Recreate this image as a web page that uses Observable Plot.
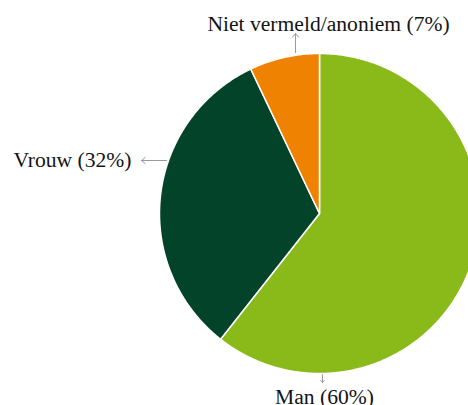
<!DOCTYPE html>
<html>
<head>
<meta charset="utf-8">
<script src="https://cdn.jsdelivr.net/npm/d3@7"></script>
<script src="https://cdn.jsdelivr.net/npm/@observablehq/plot@0.6"></script>
<style>
  html, body { margin: 0; padding: 0; background: #fff; overflow: hidden; }
  svg text { font-family: "Liberation Serif", "DejaVu Serif", serif !important; }
</style>
</head>
<body>
<div id="chart"></div>
<script>
// Data
const categories = ["Man", "Vrouw", "Niet vermeld/anoniem"];
const values = [60, 32, 7];
const labels = ["Man (60%)", "Vrouw (32%)", "Niet vermeld/anoniem (7%)"];
const colors = ["#8aba1a", "#03432a", "#ef8200"];

// Layout (pixels)
const W = 468, H = 405;
const cx = 319, cy = 213, R = 160;
const ux = px => (px - cx) / R;
const uy = py => (cy - py) / R;

// Slices from d3.pie (clockwise from 12 o'clock)
const arcs = d3.pie().sort(null).value(d => d.value)(
  categories.map((c, i) => ({category: c, value: values[i]}))
);
const poly = [];
arcs.forEach(a => {
  const n = Math.max(2, Math.ceil((a.endAngle - a.startAngle) / (Math.PI / 360)));
  poly.push({category: a.data.category, x: 0, y: 0});
  for (let k = 0; k <= n; k++) {
    const t = a.startAngle + (a.endAngle - a.startAngle) * k / n;
    poly.push({category: a.data.category, x: Math.sin(t), y: Math.cos(t)});
  }
  poly.push({category: a.data.category, x: 0, y: 0});
});

// Label callouts (pixel layout)
const callouts = [
  {label: labels[0], x1: 322, y1: 374, x2: 322, y2: 382, tx: 324, ty: 403, anchor: "middle"},
  {label: labels[1], x1: 166, y1: 160, x2: 141, y2: 160, tx: 131, ty: 166, anchor: "end"},
  {label: labels[2], x1: 295, y1: 52, x2: 295, y2: 33, tx: 328, ty: 30, anchor: "middle"}
];
const textOpts = anchor => ({
  x: d => ux(d.tx), y: d => uy(d.ty), text: "label", textAnchor: anchor,
  lineAnchor: "bottom", fill: "#141414", fontSize: 21.6,
  fontFamily: "'Liberation Serif', 'DejaVu Serif', serif"
});

const chart = Plot.plot({
  width: W,
  height: H,
  margin: 0,
  style: {fontFamily: "'Liberation Serif', 'DejaVu Serif', serif", fontSize: "21.6px", background: "#fff", overflow: "hidden"},
  x: {domain: [ux(0), ux(W)], axis: null},
  y: {domain: [uy(H), uy(0)], axis: null},
  color: {domain: categories, range: colors},
  marks: [
    Plot.line(poly, {x: "x", y: "y", z: "category", fill: "category", stroke: "#fff", strokeWidth: 1.5, curve: "linear"}),
    Plot.arrow(callouts, {
      x1: d => ux(d.x1), y1: d => uy(d.y1), x2: d => ux(d.x2), y2: d => uy(d.y2),
      stroke: "#9a9a9a", strokeWidth: 1, headLength: 7, headAngle: 80
    }),
    Plot.text(callouts.filter(d => d.anchor === "middle"), textOpts("middle")),
    Plot.text(callouts.filter(d => d.anchor === "end"), textOpts("end"))
  ]
});
document.getElementById("chart").appendChild(chart);
</script>
</body>
</html>
